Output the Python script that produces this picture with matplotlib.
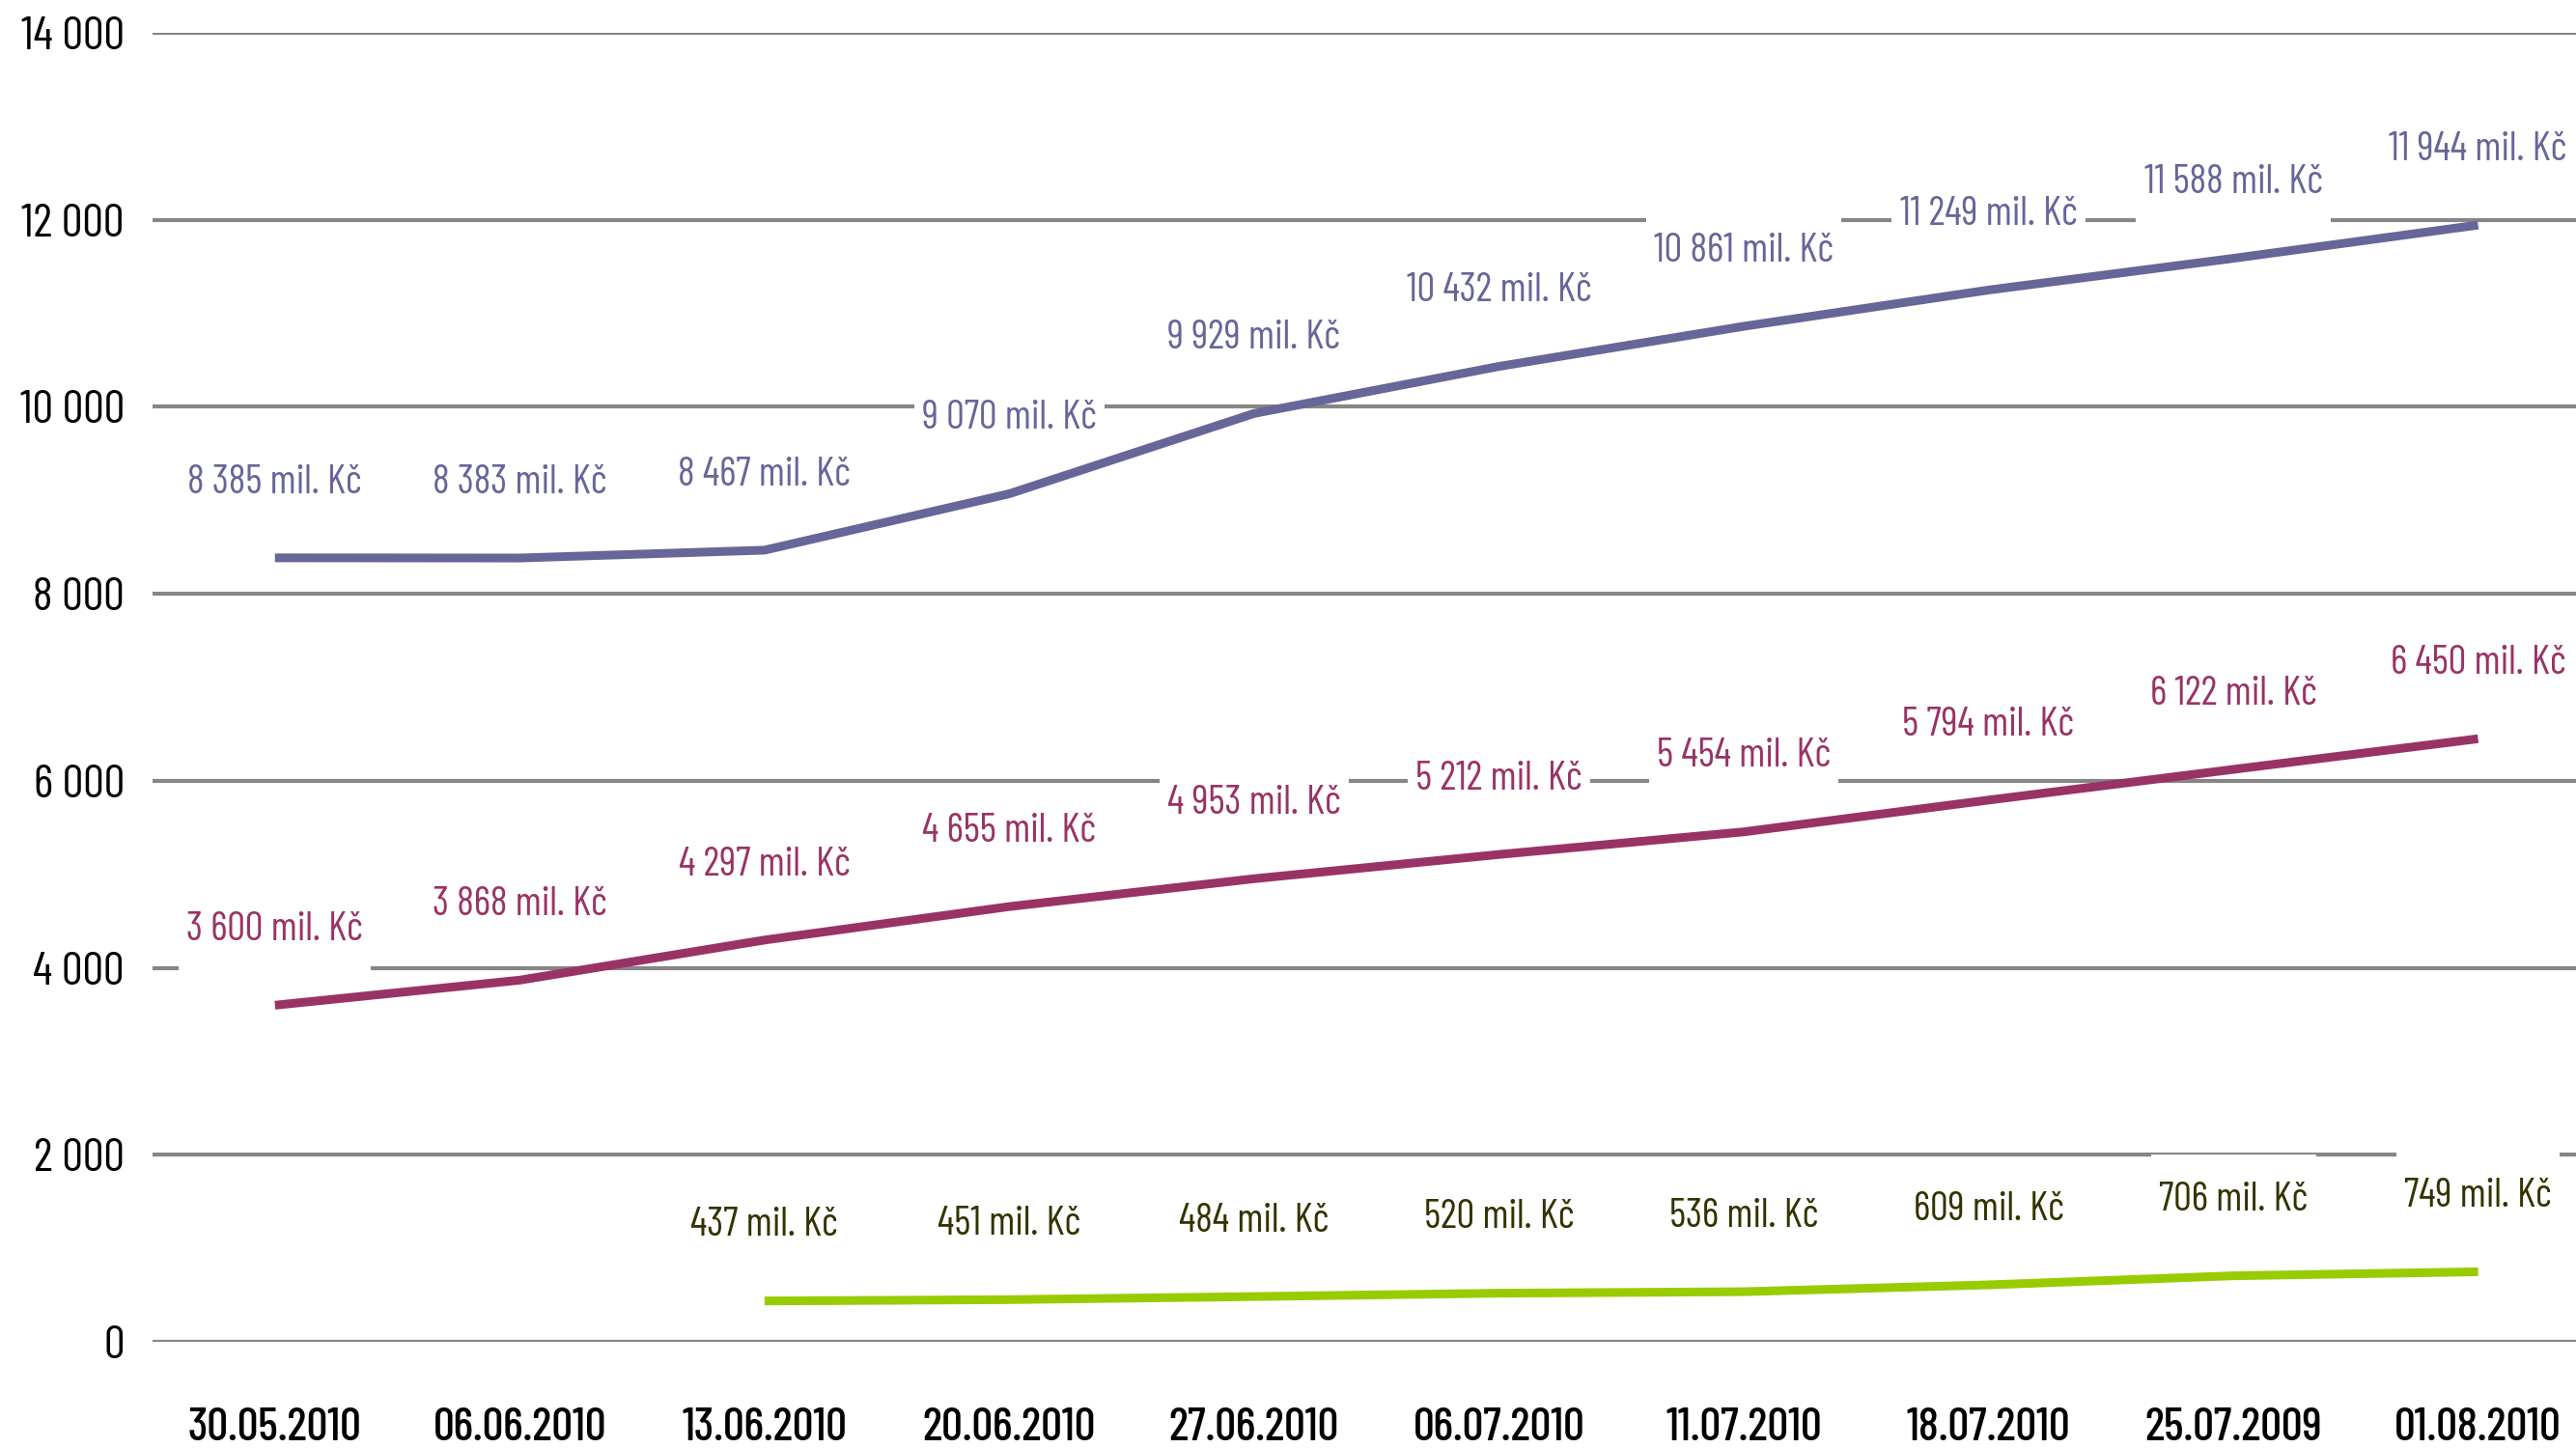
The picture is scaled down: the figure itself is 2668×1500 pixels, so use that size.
import matplotlib
matplotlib.use('agg')
import matplotlib.pyplot as plt
from matplotlib import font_manager
from matplotlib.path import Path

# categories (dates as printed in the original, incl. the 2009 typo)
dates = ["30.05.2010", "06.06.2010", "13.06.2010", "20.06.2010", "27.06.2010",
         "06.07.2010", "11.07.2010", "18.07.2010", "25.07.2009", "01.08.2010"]

# values in mil. Kč
blue_vals = [8385, 8383, 8467, 9070, 9929, 10432, 10861, 11249, 11588, 11944]
red_vals = [3600, 3868, 4297, 4655, 4953, 5212, 5454, 5794, 6122, 6450]
green_vals = [None, None, 437, 451, 484, 520, 536, 609, 706, 749]

y_ticks = [0, 2000, 4000, 6000, 8000, 10000, 12000, 14000]

BLUE = "#666699"
RED = "#993366"
GREEN = "#99CC00"
GREEN_TXT = "#333300"
GRID = "#868686"

# narrow font to get close to the squeezed excel look
names = {f.name for f in font_manager.fontManager.ttflist}
FONT = "Barlow Condensed" if "Barlow Condensed" in names else "DejaVu Sans"
plt.rcParams['font.family'] = [FONT, 'DejaVu Sans']


def fmt(v):
    return f"{v:,}".replace(",", " ") + " mil. Kč"


def tall_box(x0, y0, width, height, mutation_size, *args):
    # excel-like label box: small side padding, big top/bottom padding
    px = 0.2 * mutation_size
    py = 0.68 * mutation_size
    x0, x1 = x0 - px, x0 + width + px
    y0, y1 = y0 - py, y0 + height + py
    return Path([(x0, y0), (x1, y0), (x1, y1), (x0, y1), (x0, y0)], closed=True)


fig = plt.figure(figsize=(26.68, 15), dpi=100)
ax = fig.add_axes([158 / 2668, 1 - 1390 / 1500, 1 - 158 / 2668, (1390 - 34) / 1500])

x = list(range(len(dates)))
series = [
    (blue_vals, BLUE, BLUE),
    (red_vals, RED, RED),
    (green_vals, GREEN, GREEN_TXT),
]

for vals, col, tcol in series:
    xs = [i for i, v in zip(x, vals) if v is not None]
    ys = [v for v in vals if v is not None]
    ax.plot(xs, ys, color=col, linewidth=6.5, solid_capstyle='butt', zorder=5)
    for xi, yi in zip(xs, ys):
        ax.annotate(fmt(yi), (xi, yi), xytext=(0, 56), textcoords='offset points',
                    ha='center', va='center', fontsize=30, color=tcol, zorder=4,
                    bbox=dict(boxstyle=tall_box, facecolor='white', edgecolor='none'))

ax.set_xlim(-0.5, 9.40)
ax.set_ylim(0, 14000)
ax.set_yticks(y_ticks)
ax.set_yticklabels([f"{t:,}".replace(",", " ") for t in y_ticks], fontsize=35)
ax.set_xticks(x)
ax.set_xticklabels(dates, fontsize=35, fontweight='medium')
ax.tick_params(axis='both', length=0)
ax.tick_params(axis='y', pad=21)
ax.tick_params(axis='x', pad=49)
ax.grid(True, axis='y', color=GRID, linewidth=3, zorder=1)
ax.set_axisbelow(True)
for s in ax.spines.values():
    s.set_visible(False)

fig.savefig("out.png", dpi=100)
